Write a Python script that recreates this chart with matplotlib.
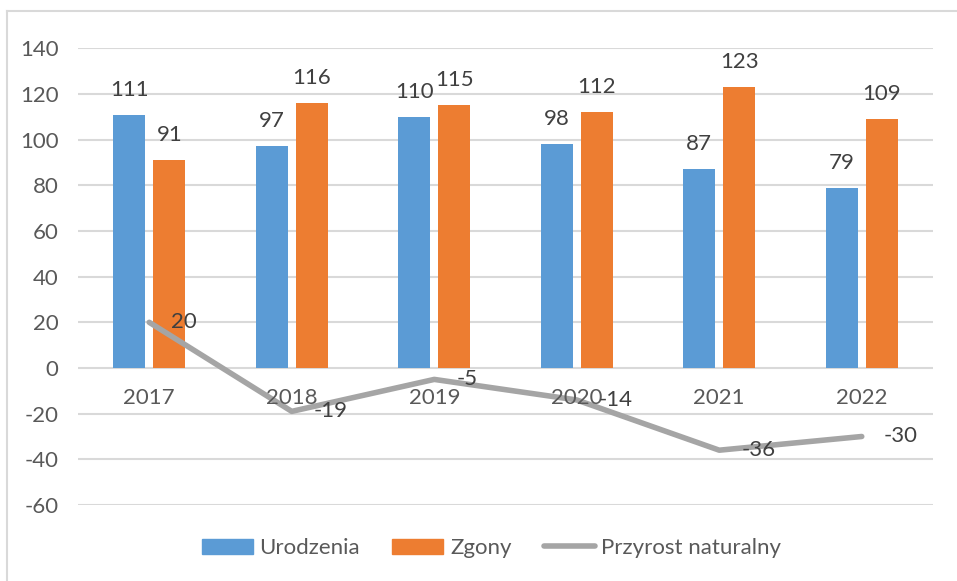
import matplotlib
matplotlib.use("Agg")
import matplotlib.pyplot as plt
from matplotlib.lines import Line2D
from matplotlib.patches import Patch
import numpy as np

years = ["2017", "2018", "2019", "2020", "2021", "2022"]
urodzenia = [111, 97, 110, 98, 87, 79]
zgony = [91, 116, 115, 112, 123, 109]
przyrost = [20, -19, -5, -14, -36, -30]
yticks = [-60, -40, -20, 0, 20, 40, 60, 80, 100, 120, 140]

plt.rcParams['font.family'] = ['Lato', 'DejaVu Sans']
plt.rcParams['axes.unicode_minus'] = False

W, H = 957, 581
fig = plt.figure(figsize=(W / 100, H / 100), dpi=100)
ax = fig.add_axes([78 / W, 1 - 505 / H, (933 - 78) / W, (505 - 48.3) / H])

BLUE = "#5B9BD5"
ORANGE = "#ED7D31"
GRAY = "#A5A5A5"
TXT = "#404040"
TICK = "#595959"
GRID = "#D9D9D9"
FS = 16

x = np.arange(len(years))
bw = 0.225
off = 0.1405
ax.bar(x - off, urodzenia, bw, color=BLUE, zorder=2)
ax.bar(x + off, zgony, bw, color=ORANGE, zorder=2)
ax.plot(x, przyrost, color=GRAY, lw=4, solid_capstyle='round', zorder=3)

for i in range(len(years)):
    ax.annotate(str(urodzenia[i]), (x[i] - off, urodzenia[i]), xytext=(0, 25),
                textcoords='offset pixels', ha='center', va='center',
                fontsize=FS, color=TXT, zorder=5)
    ax.annotate(str(zgony[i]), (x[i] + off, zgony[i]), xytext=(0, 25),
                textcoords='offset pixels', ha='center', va='center',
                fontsize=FS, color=TXT, zorder=5)
    ax.annotate(str(przyrost[i]), (x[i], przyrost[i]), xytext=(22, 0),
                textcoords='offset pixels', ha='left', va='center',
                fontsize=FS, color=TXT, zorder=5)
    ax.annotate(years[i], (x[i], 0), xytext=(0, -30),
                textcoords='offset pixels', ha='center', va='center',
                fontsize=FS, color=TICK, zorder=4)

ax.set_xlim(-0.5, len(years) - 0.5)
ax.set_ylim(-60, 140)
ax.set_yticks(yticks)
ax.set_yticklabels([str(v) for v in yticks], fontsize=FS, color=TICK)
ax.set_xticks([])
ax.tick_params(axis='y', length=0, pad=14)
ax.grid(axis='y', color=GRID, lw=1.5, zorder=0)
ax.set_axisbelow(True)
for s in ax.spines.values():
    s.set_visible(False)

handles = [Patch(color=BLUE), Patch(color=ORANGE),
           Line2D([], [], color=GRAY, lw=4, solid_capstyle='round')]
fig.legend(handles, ["Urodzenia", "Zgony", "Przyrost naturalny"],
           loc='center', bbox_to_anchor=(491.5 / W, 1 - 548 / H), ncol=3,
           frameon=False, fontsize=FS, handlelength=2.3, handleheight=0.65,
           handletextpad=0.3, columnspacing=1.45, labelcolor=TICK)

fig.add_artist(Line2D([7 / W, 1], [1 - 11 / H, 1 - 11 / H], color=GRID, lw=1.5,
                      transform=fig.transFigure))
fig.add_artist(Line2D([7 / W, 7 / W], [1 - 11 / H, 0], color=GRID, lw=1.5,
                      transform=fig.transFigure))

fig.savefig("out.png", dpi=100)
